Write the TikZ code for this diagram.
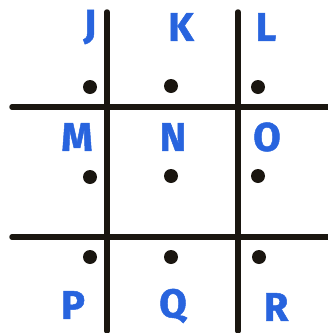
\documentclass[tikz,border=0pt]{standalone}
\usepackage{fontspec}
\setmainfont{Fira Sans}
\newfontfamily\letterfont{Fira Sans}[BoldFeatures={FakeBold=1.2}]
\definecolor{letterblue}{RGB}{40,100,222}
\definecolor{gridline}{RGB}{26,22,16}
\begin{document}
\begin{tikzpicture}[x=1pt,y=-1pt,
  letter/.style={text=letterblue,font=\letterfont\fontsize{40}{40}\selectfont\bfseries,inner sep=0pt,anchor=center},
  spot/.style={circle,fill=gridline,minimum size=14pt,inner sep=0pt},
  grid/.style={draw=gridline,line width=5.5pt,line cap=round}]
\useasboundingbox (0,0) rectangle (328,333);
% grid lines
\coordinate (v1t) at (107,12); \coordinate (v1b) at (107,331);
\coordinate (v2t) at (238,12); \coordinate (v2b) at (238,331);
\coordinate (h1l) at (12,107); \coordinate (h1r) at (330,107);
\coordinate (h2l) at (12,237); \coordinate (h2r) at (330,237);
\draw[grid] (v1t) -- (v1b);
\draw[grid] (v2t) -- (v2b);
\draw[grid] (h1l) -- (h1r);
\draw[grid] (h2l) -- (h2r);
% letters
\node[letter] (J) at (90,27) {J};
\node[letter] (K) at (181,27) {K};
\node[letter] (L) at (266,27) {L};
\node[letter] (M) at (77,137) {M};
\node[letter] (N) at (173,137) {N};
\node[letter] (O) at (267,137) {O};
\node[letter] (P) at (73,305) {P};
\node[letter] (Q) at (173,306) {Q};
\node[letter] (R) at (276,307) {R};
% dots
\node[spot] (d1) at (90,87) {};
\node[spot] (d2) at (171,86) {};
\node[spot] (d3) at (258,87) {};
\node[spot] (d4) at (90,177) {};
\node[spot] (d5) at (171,176) {};
\node[spot] (d6) at (258,176) {};
\node[spot] (d7) at (90,257) {};
\node[spot] (d8) at (171,257) {};
\node[spot] (d9) at (259,257) {};
\end{tikzpicture}
\end{document}
